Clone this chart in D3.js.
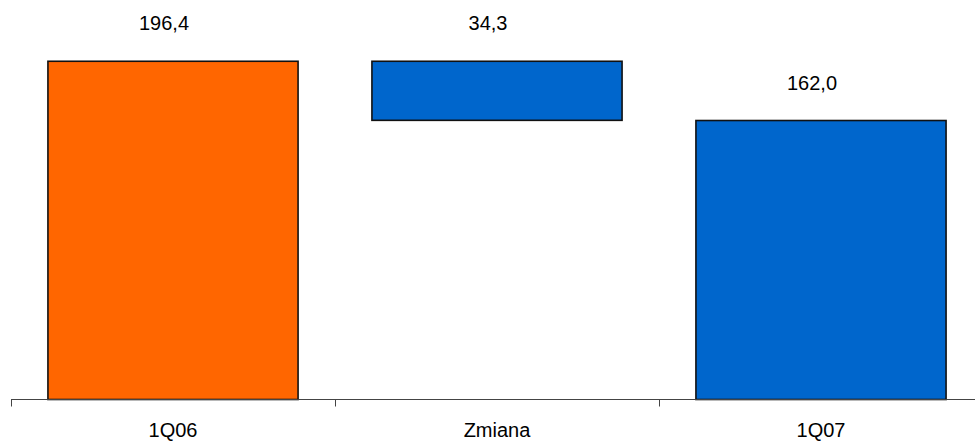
<!DOCTYPE html>
<html>
<head>
<meta charset="utf-8">
<script src="https://cdn.jsdelivr.net/npm/d3@7"></script>
<style>
  html, body { margin: 0; padding: 0; background: #fff; }
  svg { display: block; font-family: "Liberation Sans", Arial, sans-serif; }
</style>
</head>
<body>
<svg id="chart" width="975" height="441"></svg>
<script>
// Waterfall: starting value, change, ending value
const categories = ["1Q06", "Zmiana", "1Q07"];
const values = [196.4, -34.3, 162.0];
const labels = ["196,4", "34,3", "162,0"];
const kinds = ["total", "delta", "total"];

const width = 975, height = 441;
const svg = d3.select("#chart");

const x = d3.scaleBand().domain(categories).range([11, 983]).padding(0);
const y = d3.scaleLinear().domain([0, 230]).range([399.5, 3.4]);

// compute the floating segments
let running = 0;
const bars = categories.map((c, i) => {
  let lo, hi;
  if (kinds[i] === "total") {
    lo = 0; hi = values[i]; running = values[i];
  } else {
    const next = running + values[i];
    lo = Math.min(running, next); hi = Math.max(running, next);
    running = next;
  }
  return { cat: c, lo, hi, label: labels[i], color: i === 0 ? "#FF6600" : "#0066CC" };
});

const barW = x.bandwidth() * 0.772;

svg.append("g").selectAll("rect").data(bars).join("rect")
  .attr("x", d => x(d.cat) + (x.bandwidth() - barW) / 2)
  .attr("y", d => y(d.hi))
  .attr("width", barW)
  .attr("height", d => y(d.lo) - y(d.hi))
  .attr("fill", d => d.color)
  .attr("stroke", "#111")
  .attr("stroke-width", 1.6);

svg.append("g").selectAll("text").data(bars).join("text")
  .attr("x", d => x(d.cat) + x.bandwidth() / 2 - 9)
  .attr("y", d => y(d.hi) - 31)
  .attr("text-anchor", "middle")
  .attr("font-size", 20)
  .attr("fill", "#000")
  .text(d => d.label);

// category axis
const axis = svg.append("g").attr("transform", "translate(0,399.5)");
axis.append("line")
  .attr("x1", 11).attr("x2", 975)
  .attr("stroke", "#444").attr("stroke-width", 1);
const tickPos = [0, 1, 2].map(i => x(categories[i]));
axis.selectAll("line.tick").data(tickPos).join("line")
  .attr("class", "tick")
  .attr("x1", d => d + 0.5).attr("x2", d => d + 0.5)
  .attr("y1", 0).attr("y2", 7)
  .attr("stroke", "#444").attr("stroke-width", 1);
axis.selectAll("text").data(categories).join("text")
  .attr("x", d => x(d) + x.bandwidth() / 2)
  .attr("y", 37)
  .attr("text-anchor", "middle")
  .attr("font-size", 20)
  .attr("fill", "#000")
  .text(d => d);
</script>
</body>
</html>
